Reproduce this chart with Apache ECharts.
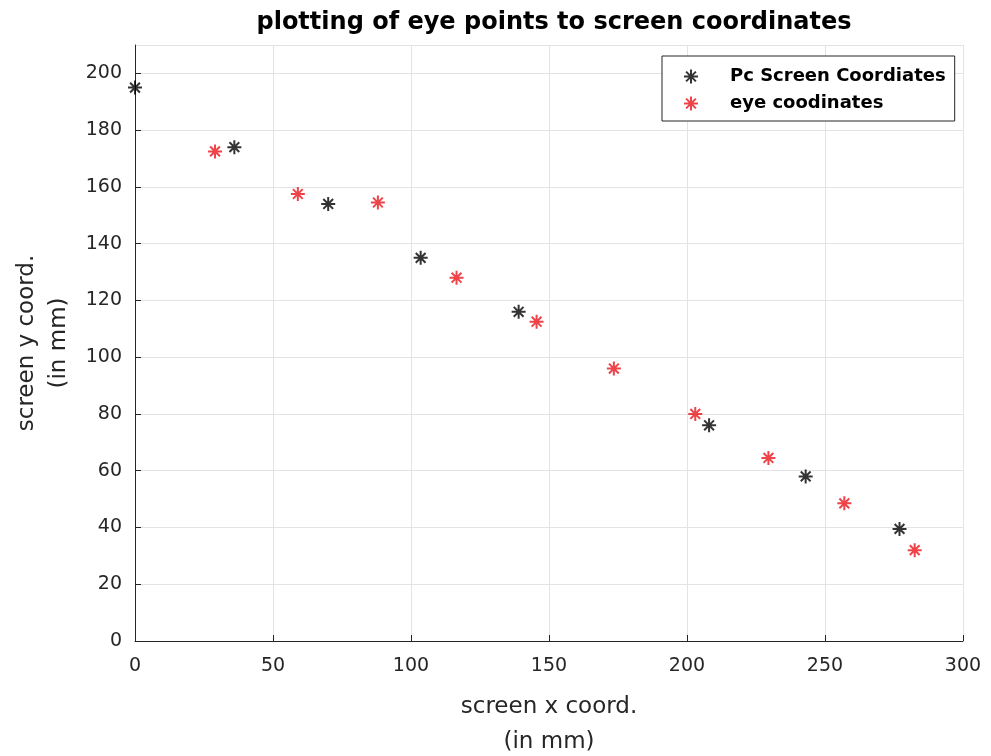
<!DOCTYPE html>
<html>
<head>
<meta charset="utf-8">
<script src="https://cdn.jsdelivr.net/npm/echarts@6/dist/echarts.min.js"></script>
<style>
html,body{margin:0;padding:0;background:#fff;}
#chart{width:991px;height:756px;}
</style>
</head>
<body>
<div id="chart"></div>
<script>
// Screen coordinates (mm) of the calibration targets
const pcX = [0, 36, 70, 103.5, 139, 208, 243, 277];
const pcY = [195, 174, 154, 135, 116, 76, 58, 39.5];
// Eye positions mapped to screen coordinates (mm)
const eyeX = [29, 59, 88, 116.5, 145.5, 173.5, 203, 229.5, 257, 282.5];
const eyeY = [172.5, 157.5, 154.5, 128, 112.5, 96, 80, 64.5, 48.5, 32];

const xTicks = [0, 50, 100, 150, 200, 250, 300];
const yTicks = [0, 20, 40, 60, 80, 100, 120, 140, 160, 180, 200];

const pairs = (xs, ys) => xs.map((x, i) => [x, ys[i]]);

// asterisk marker made of four crossing strokes
const asterisk = 'path://M0,-10L0,10M-10,0L10,0M-7,-7L7,7M-7,7L7,-7';

const font = '"DejaVu Sans", Arial, sans-serif';

const chart = echarts.init(document.getElementById('chart'));
chart.setOption({
  backgroundColor: '#ffffff',
  animation: false,
  title: {
    text: 'plotting of eye points to screen coordinates',
    left: 549, top: 6, textAlign: 'center',
    textStyle: { fontFamily: font, fontSize: 24, fontWeight: 'bold', color: '#000' }
  },
  legend: {
    orient: 'vertical',
    left: 662, top: 56,
    padding: [10, 9, 7, 21],
    itemGap: 6,
    itemWidth: 14, itemHeight: 14,
    backgroundColor: '#fff',
    borderColor: '#262626', borderWidth: 1, borderRadius: 0,
    textStyle: { fontFamily: font, fontSize: 18, lineHeight: 21, fontWeight: 'bold', color: '#000', padding: [0, 0, 0, 27] },
    data: [
      { name: 'Pc Screen Coordiates', icon: asterisk },
      { name: 'eye coodinates', icon: asterisk }
    ]
  },
  grid: { left: 135, right: 28, top: 45, bottom: 115, outerBoundsMode: 'none', containLabel: false },
  xAxis: {
    type: 'value', min: 0, max: 300, interval: 50,
    name: 'screen x coord.\n(in mm)', nameLocation: 'middle', nameGap: 49,
    nameTextStyle: { fontFamily: font, fontSize: 23, color: '#262626', lineHeight: 35 },
    axisLine: { show: true, onZero: false, lineStyle: { color: '#262626', width: 1 } },
    axisTick: { show: true, inside: true, length: 6, lineStyle: { color: '#262626' } },
    axisLabel: { fontFamily: font, fontSize: 19, color: '#262626', margin: 16,
      formatter: v => xTicks.includes(v) ? String(v) : '' },
    splitLine: { show: true, lineStyle: { color: '#e3e3e3', width: 1 } }
  },
  yAxis: {
    type: 'value', min: 0, max: 210, interval: 20,
    name: 'screen y coord.\n(in mm)', nameLocation: 'middle', nameGap: 57,
    nameTextStyle: { fontFamily: font, fontSize: 23, color: '#262626', lineHeight: 32 },
    axisLine: { show: true, onZero: false, lineStyle: { color: '#262626', width: 1 } },
    axisTick: { show: true, inside: true, length: 6, lineStyle: { color: '#262626' } },
    axisLabel: { fontFamily: font, fontSize: 19, color: '#262626', margin: 13,
      showMaxLabel: false,
      formatter: v => yTicks.includes(v) ? String(v) : '' },
    splitLine: { show: true, lineStyle: { color: '#e3e3e3', width: 1 } }
  },
  series: [
    {
      name: 'Pc Screen Coordiates', type: 'scatter',
      symbol: asterisk, symbolSize: 14,
      itemStyle: { color: '#000', borderColor: '#000', borderWidth: 2 },
      data: pairs(pcX, pcY), z: 3
    },
    {
      name: 'eye coodinates', type: 'scatter',
      symbol: asterisk, symbolSize: 14,
      itemStyle: { color: '#e8141c', borderColor: '#e8141c', borderWidth: 2 },
      data: pairs(eyeX, eyeY), z: 2
    }
  ]
});
</script>
</body>
</html>
